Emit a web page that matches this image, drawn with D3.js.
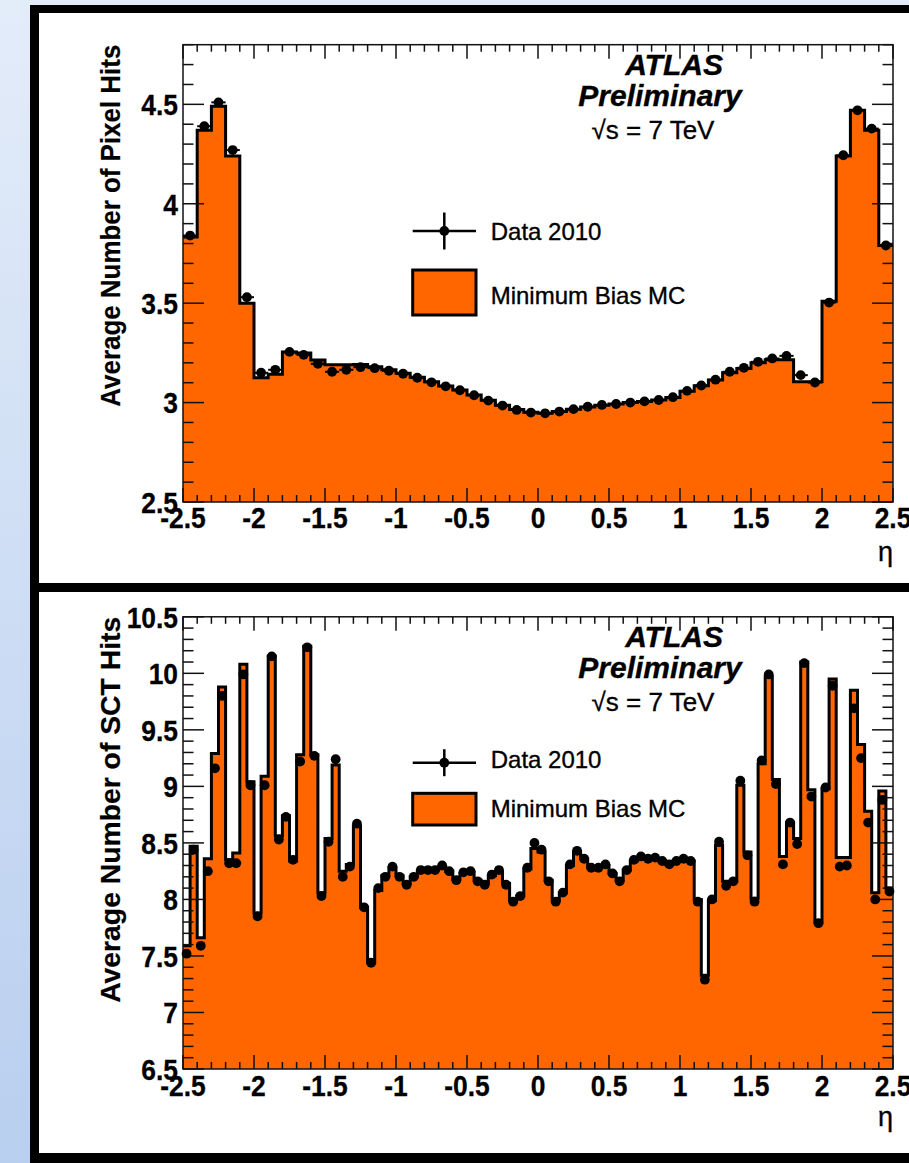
<!DOCTYPE html>
<html><head><meta charset="utf-8">
<script src="https://cdn.jsdelivr.net/npm/d3@7"></script>
<style>body{margin:0;background:#fff}svg{display:block}text{font-family:"Liberation Sans",Arial,Helvetica,sans-serif}</style>
</head><body>
<svg id="c" width="909" height="1163"></svg>
<script>
// ---------------- data ----------------
const xTickValues = [-2.5,-2,-1.5,-1,-0.5,0,0.5,1,1.5,2,2.5];
const xTickLabels = ["-2.5","-2","-1.5","-1","-0.5","0","0.5","1","1.5","2","2.5"];
const pixelYTicks = [2.5,3,3.5,4,4.5];
const pixelYLabels = ["2.5","3","3.5","4","4.5"];
const sctYTicks = [6.5,7,7.5,8,8.5,9,9.5,10,10.5];
const sctYLabels = ["6.5","7","7.5","8","8.5","9","9.5","10","10.5"];
const legendLabels = ["Data 2010","Minimum Bias MC"];
const atlasLines = ["ATLAS","Preliminary","\u221As = 7 TeV"];
const pixelTitle = "Average Number of Pixel Hits";
const sctTitle = "Average Number of SCT Hits";
const xTitle = "\u03B7";

// Pixel hits, 50 bins of 0.1 in eta
const pixelData = [3.84,4.39,4.51,4.27,3.53,3.15,3.165,3.255,3.24,3.195,
  3.155,3.165,3.178,3.173,3.16,3.145,3.125,3.102,3.082,3.062,
  3.037,3.01,2.985,2.963,2.95,2.946,2.955,2.967,2.979,2.988,
  2.993,3.0,3.006,3.013,3.027,3.059,3.086,3.115,3.155,3.175,
  3.205,3.222,3.235,3.138,3.101,3.503,4.244,4.47,4.378,3.79];
const pixelMC = [3.833,4.37,4.49,4.24,3.50,3.125,3.142,3.255,3.25,3.214,
  3.19,3.19,3.192,3.18,3.165,3.148,3.128,3.105,3.084,3.063,
  3.038,3.012,2.987,2.965,2.952,2.947,2.955,2.967,2.978,2.987,
  2.993,3.0,3.006,3.013,3.026,3.057,3.085,3.113,3.15,3.172,
  3.2,3.215,3.215,3.105,3.105,3.51,4.24,4.47,4.37,3.79];

// SCT hits, 100 bins of 0.05 in eta
const sctData = [7.52,8.44,7.59,8.25,9.16,9.80,8.32,8.32,9.99,9.01,
  7.85,9.01,10.15,8.53,8.73,8.35,9.22,10.23,9.27,8.03,
  8.51,9.24,8.20,8.29,8.67,7.93,7.44,8.10,8.20,8.29,
  8.20,8.13,8.20,8.26,8.26,8.26,8.30,8.25,8.17,8.24,
  8.25,8.16,8.13,8.22,8.26,8.13,7.98,8.03,8.28,8.50,
  8.44,8.16,7.98,8.06,8.31,8.43,8.36,8.28,8.28,8.31,
  8.23,8.16,8.26,8.35,8.38,8.36,8.37,8.34,8.31,8.34,
  8.36,8.34,7.98,7.29,8.00,8.51,8.12,8.16,9.05,8.39,
  7.98,9.23,9.99,9.02,8.31,8.68,8.49,10.09,8.91,7.79,
  8.99,9.89,8.29,8.30,9.69,9.25,8.68,8.00,8.88,8.07];
const sctMC = [7.59,8.47,7.66,8.36,9.29,9.88,8.35,8.41,10.08,9.04,
  7.88,9.09,10.15,8.56,8.74,8.34,9.28,10.24,9.28,8.06,
  8.54,9.19,8.25,8.31,8.65,7.93,7.44,8.08,8.21,8.28,
  8.21,8.14,8.20,8.25,8.26,8.26,8.29,8.25,8.18,8.23,
  8.24,8.17,8.14,8.21,8.25,8.14,7.99,8.03,8.27,8.45,
  8.42,8.17,7.99,8.06,8.30,8.42,8.36,8.28,8.28,8.30,
  8.23,8.17,8.26,8.34,8.37,8.36,8.36,8.34,8.31,8.34,
  8.35,8.34,8.00,7.33,7.99,8.48,8.16,8.16,9.01,8.42,
  8.01,9.20,9.97,9.06,8.38,8.68,8.54,10.10,8.97,7.80,
  8.98,9.95,8.37,8.37,9.85,9.37,8.78,8.06,8.96,8.10];

// ---------------- drawing ----------------
const W = 909, H = 1163;
const ORANGE = "#ff6600";
const svg = d3.select("#c");
const defs = svg.append("defs");
const grad = defs.append("linearGradient").attr("id","bg").attr("x1",0).attr("y1",0).attr("x2",0).attr("y2",1);
grad.append("stop").attr("offset","0%").attr("stop-color","#e3ecf9");
grad.append("stop").attr("offset","100%").attr("stop-color","#b9cfef");
svg.append("rect").attr("width",W).attr("height",H).attr("fill","url(#bg)");
svg.append("rect").attr("x",30).attr("y",5).attr("width",W).attr("height",H).attr("fill","#000");
svg.append("rect").attr("x",39).attr("y",13).attr("width",W).attr("height",570).attr("fill","#fff");
svg.append("rect").attr("x",39).attr("y",592).attr("width",W).attr("height",561).attr("fill","#fff");

function sText(g, str, x, y, opt){
  const t = g.append("text")
    .attr("transform", `translate(${x},${y})${opt.rot?` rotate(${opt.rot})`:""} scale(${opt.sx||1},1)`)
    .attr("text-anchor", opt.anchor||"start")
    .attr("font-size", opt.size)
    .attr("font-weight", opt.weight||"normal")
    .attr("font-style", opt.style||"normal")
    .attr("fill","#000")
    .attr("stroke","#000").attr("stroke-width", opt.sw||0.35)
    .text(str);
  if (opt.dy) t.attr("dy", opt.dy);
  if (opt.len) t.attr("textLength", opt.len).attr("lengthAdjust","spacingAndGlyphs");
  return t;
}

function drawPanel(cfg){
  const g = svg.append("g");
  const x = d3.scaleLinear().domain([-2.5,2.5]).range([183,893]);
  const y = d3.scaleLinear().domain(cfg.yDomain).range([cfg.bottom, cfg.top]);
  const n = cfg.mc.length, w = 5/n;
  const edges = d3.range(n+1).map(i => -2.5 + i*w);
  const y0 = cfg.yDomain[0];

  // MC histogram
  const steps = [];
  cfg.mc.forEach((v,i) => { steps.push([edges[i], v]); steps.push([edges[i+1], v]); });
  const area = d3.area().x(d => x(d[0])).y0(y(y0)).y1(d => y(d[1]));
  g.append("path").attr("d", area(steps)).attr("fill", ORANGE);
  const line = d3.line().x(d => x(d[0])).y(d => y(d[1]));
  g.append("path").attr("d", line(steps)).attr("fill","none").attr("stroke","#000")
    .attr("stroke-width",3).attr("stroke-linejoin","miter");

  // frame
  g.append("rect").attr("x",x(-2.5)).attr("y",y(cfg.yDomain[1])).attr("width",x(2.5)-x(-2.5))
    .attr("height",y(y0)-y(cfg.yDomain[1])).attr("fill","none").attr("stroke","#111").attr("stroke-width",1.5);

  // ticks
  const xMinor = x.ticks(50).filter(v => Math.abs(v*2 - Math.round(v*2)) > 1e-6);
  const yMinor = y.ticks(cfg.minorCount).filter(v => !cfg.yTicks.some(t => Math.abs(t-v) < 1e-6));
  const tk = g.append("g").attr("stroke","#111").attr("stroke-width",1.5);
  const xt = [...xTickValues.map(v=>[v,14]), ...xMinor.map(v=>[v,7])];
  tk.selectAll(null).data(xt).join("line")
    .attr("x1",d=>x(d[0])).attr("x2",d=>x(d[0])).attr("y1",y(y0)).attr("y2",d=>y(y0)-d[1]);
  tk.selectAll(null).data(xt).join("line")
    .attr("x1",d=>x(d[0])).attr("x2",d=>x(d[0])).attr("y1",y(cfg.yDomain[1])).attr("y2",d=>y(cfg.yDomain[1])+d[1]);
  const yt = [...cfg.yTicks.map(v=>[v,21]), ...yMinor.map(v=>[v,10.5])];
  tk.selectAll(null).data(yt).join("line")
    .attr("y1",d=>y(d[0])).attr("y2",d=>y(d[0])).attr("x1",x(-2.5)).attr("x2",d=>x(-2.5)+d[1]);
  tk.selectAll(null).data(yt).join("line")
    .attr("y1",d=>y(d[0])).attr("y2",d=>y(d[0])).attr("x1",x(2.5)).attr("x2",d=>x(2.5)-d[1]);

  // data points
  const centers = cfg.data.map((v,i) => [(edges[i]+edges[i+1])/2, v, edges[i], edges[i+1]]);
  g.selectAll(null).data(centers).join("line")
    .attr("x1",d=>x(d[2])).attr("x2",d=>x(d[3])).attr("y1",d=>y(d[1])).attr("y2",d=>y(d[1]))
    .attr("stroke","#000").attr("stroke-width",2);
  g.selectAll(null).data(centers).join("circle")
    .attr("cx",d=>x(d[0])).attr("cy",d=>y(d[1])).attr("r",4.9).attr("fill","#000");

  // tick labels
  xTickValues.forEach((v,i) => sText(g, xTickLabels[i], x(v), cfg.xLabBase, {size:30, weight:"bold", sx:0.88, anchor:"middle", sw:0.3}));
  cfg.yTicks.forEach((v,i) => sText(g, cfg.yLabels[i], 178, y(v), {size:30, weight:"bold", sx:0.88, anchor:"end", dy:"0.36em", sw:0.3}));

  // axis titles
  sText(g, xTitle, 893, cfg.etaBase, {size:27, anchor:"end"});
  sText(g, cfg.title, 120, cfg.top, {size:28, weight:"bold", rot:-90, anchor:"end", len:cfg.titleLen, sw:0.2});

  // ATLAS label
  const o = cfg.top - 44.7;
  sText(g, atlasLines[0], 674, 75+o, {size:30, weight:"bold", style:"italic", anchor:"middle"});
  sText(g, atlasLines[1], 660, 105.5+o, {size:30, weight:"bold", style:"italic", anchor:"middle"});
  sText(g, atlasLines[2], 653, 139+o, {size:26, anchor:"middle"});

  // legend
  const L = cfg.legend;
  g.append("line").attr("x1",412.7).attr("x2",476).attr("y1",L.dataY).attr("y2",L.dataY).attr("stroke","#000").attr("stroke-width",2.5);
  g.append("line").attr("x1",444.3).attr("x2",444.3).attr("y1",L.dataY-L.vh).attr("y2",L.dataY+L.vh).attr("stroke","#000").attr("stroke-width",2.5);
  g.append("circle").attr("cx",444.3).attr("cy",L.dataY).attr("r",4.9).attr("fill","#000");
  g.append("rect").attr("x",412.7).attr("y",L.boxY0).attr("width",476-412.7).attr("height",L.boxY1-L.boxY0)
    .attr("fill",ORANGE).attr("stroke","#000").attr("stroke-width",3);
  sText(g, legendLabels[0], 490.7, L.t0, {size:24});
  sText(g, legendLabels[1], 490.7, L.t1, {size:24});
}

drawPanel({
  data: pixelData, mc: pixelMC, yDomain:[2.5,4.8], top:44.7, bottom:502, minorCount:23,
  yTicks: pixelYTicks, yLabels: pixelYLabels, xLabBase:528, etaBase:561,
  title: pixelTitle, titleLen: 362,
  legend: {dataY:231, vh:18.5, boxY0:270, boxY1:315, t0:239.5, t1:304}
});
drawPanel({
  data: sctData, mc: sctMC, yDomain:[6.5,10.5], top:616.8, bottom:1069, minorCount:40,
  yTicks: sctYTicks, yLabels: sctYLabels, xLabBase:1096, etaBase:1126,
  title: sctTitle, titleLen: 386,
  legend: {dataY:762.7, vh:13.5, boxY0:793.3, boxY1:825, t0:767.5, t1:817}
});
</script>
</body></html>
